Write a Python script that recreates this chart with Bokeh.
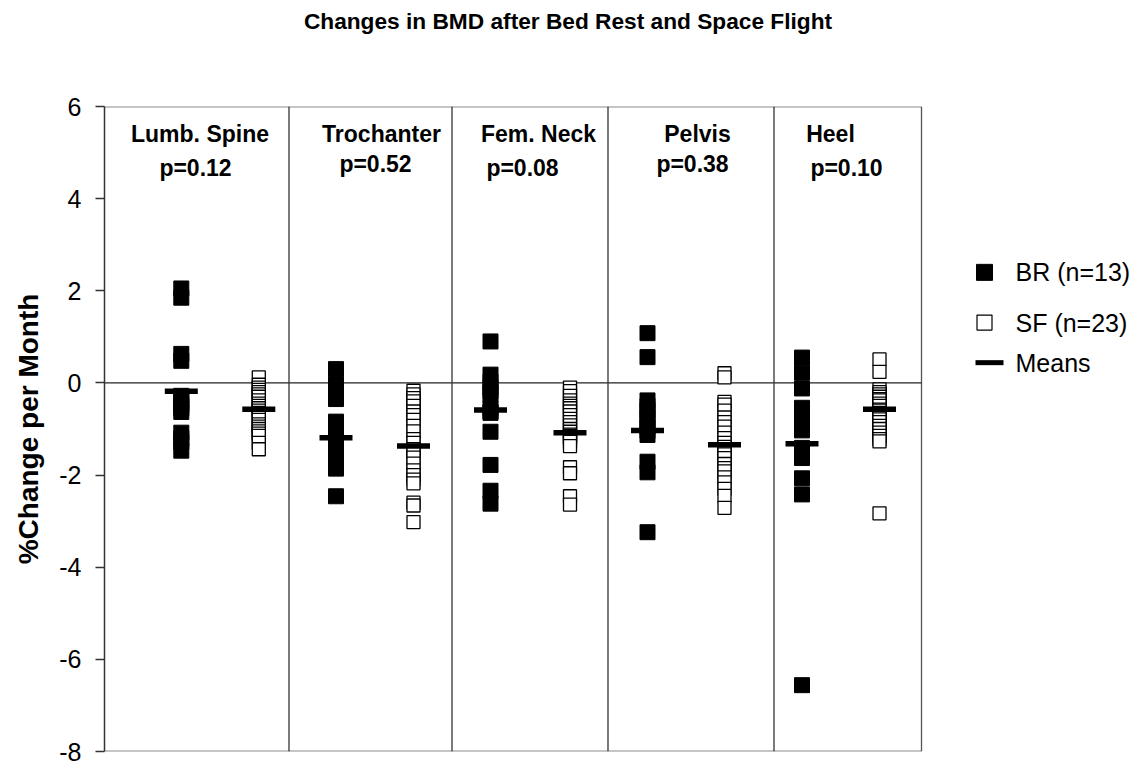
from bokeh.plotting import figure
from bokeh.layouts import column
from bokeh.models import Range1d, Span, FixedTicker
from bokeh.core.properties import value
from bokeh.embed import file_html
from bokeh.resources import INLINE

# ---------------- data ----------------
title_text = "Changes in BMD after Bed Rest and Space Flight"
sites = ["Lumb. Spine", "Trochanter", "Fem. Neck", "Pelvis", "Heel"]
p_values = ["p=0.12", "p=0.52", "p=0.08", "p=0.38", "p=0.10"]

br_lumb = [2.05, 1.85, 0.63, 0.48, -0.28, -0.40, -0.48, -0.55, -0.63, -1.08, -1.20, -1.28, -1.47]
sf_lumb = [0.12, -0.04, -0.10, -0.15, -0.20, -0.25, -0.30, -0.38, -0.45, -0.50, -0.55, -0.60,
           -0.65, -0.72, -0.80, -0.90, -0.95, -1.00, -1.05, -1.10, -1.15, -1.30, -1.44]
br_troch = [0.30, -0.03, -0.20, -0.35, -0.84, -1.04, -1.15, -1.26, -1.47, -1.60, -1.71, -1.86, -2.46]
sf_troch = [-0.17, -0.25, -0.33, -0.40, -0.50, -0.62, -0.70, -0.80, -0.93, -1.05, -1.22, -1.30,
            -1.44, -1.50, -1.62, -1.75, -1.90, -2.00, -2.10, -2.18, -2.60, -2.66, -3.02]
br_neck = [0.90, 0.18, 0.02, -0.11, -0.18, -0.26, -0.55, -0.62, -0.65, -1.06, -1.78, -2.34, -2.62]
sf_neck = [-0.10, -0.18, -0.28, -0.38, -0.45, -0.50, -0.55, -0.62, -0.70, -0.78, -0.85, -0.92,
           -1.00, -1.06, -1.12, -1.15, -1.20, -1.28, -1.37, -1.83, -1.96, -2.46, -2.64]
br_pelvis = [1.08, 0.56, -0.38, -0.50, -0.60, -0.72, -0.82, -0.95, -1.04, -1.13, -1.71, -1.94, -3.24]
sf_pelvis = [0.21, 0.12, -0.41, -0.47, -0.60, -0.75, -0.85, -0.95, -1.08, -1.20, -1.30, -1.39,
             -1.48, -1.55, -1.63, -1.76, -1.85, -1.92, -2.05, -2.16, -2.30, -2.45, -2.71]
br_heel = [0.55, 0.22, -0.12, -0.54, -0.66, -0.78, -0.90, -1.03, -1.41, -1.63, -2.07, -2.42, -6.56]
sf_heel = [0.51, 0.24, -0.14, -0.20, -0.25, -0.30, -0.35, -0.38, -0.45, -0.50, -0.58, -0.60,
           -0.65, -0.72, -0.79, -0.85, -0.93, -1.00, -1.08, -1.15, -1.22, -1.27, -2.83]

br_means = [-0.18, -1.19, -0.59, -1.03, -1.32]
sf_means = [-0.57, -1.37, -1.08, -1.34, -0.57]

y_ticks = [6, 4, 2, 0, -2, -4, -6, -8]
y_tick_labels = ["6", "4", "2", "0", "-2", "-4", "-6", "-8"]

legend_labels = ["BR (n=13)", "SF (n=23)", "Means"]

# ---------------- layout constants (horizontal slots, px-like units) ----------------
panel_right = 817.0
br_slot = [76.8, 231.5, 386.0, 543.0, 697.5]
sf_slot = [154.3, 309.0, 465.5, 620.0, 775.0]
dividers = [184.5, 347.5, 503.5, 669.5]
site_label_x = [95.5, 277.0, 434.0, 593.0, 726.0]
p_label_x = [91.0, 271.0, 418.0, 588.0, 742.0]
site_label_y = [5.41, 5.41, 5.41, 5.41, 5.41]
p_label_y = [4.66, 4.75, 4.66, 4.75, 4.66]
legend_mark_x = 880.0
legend_dash_x = 885.0
legend_text_x = 911.0
legend_y = [2.40, 1.31, 0.44]
title_x = 463.5

br_series = [br_lumb, br_troch, br_neck, br_pelvis, br_heel]
sf_series = [sf_lumb, sf_troch, sf_neck, sf_pelvis, sf_heel]

FONT = "Liberation Sans"
TITLE_H = 90
X_SPAN = 1039

# ---------------- title strip ----------------
t = figure(width=1143, height=TITLE_H, output_backend="svg", toolbar_location=None,
           x_range=Range1d(0, X_SPAN), y_range=Range1d(0, TITLE_H),
           x_axis_location=None, y_axis_location=None,
           min_border_left=104, min_border_right=0, min_border_top=0, min_border_bottom=0)
t.grid.visible = False
t.outline_line_color = None
t.background_fill_color = "white"
t.border_fill_color = "white"
t.text(x=[title_x], y=[70], text=[title_text], text_font=value(FONT), text_font_style="bold",
       text_font_size="22.7px", text_align="center", text_baseline="middle",
       text_color="black")

# ---------------- main chart ----------------
p = figure(width=1143, height=769 - TITLE_H, output_backend="svg", toolbar_location=None,
           x_range=Range1d(0, X_SPAN), y_range=Range1d(-8, 6),
           x_axis_location=None, min_border_left=104, min_border_right=0,
           min_border_top=16, min_border_bottom=18)
p.grid.visible = False
p.background_fill_color = "white"
p.border_fill_color = "white"
p.outline_line_color = None

ax = p.yaxis[0]
ax.ticker = FixedTicker(ticks=y_ticks)
ax.major_label_overrides = {t_: s for t_, s in zip(y_ticks, y_tick_labels)}
ax.axis_line_color = "#333333"
ax.axis_line_width = 1.5
ax.major_tick_line_color = "#333333"
ax.major_tick_line_width = 1.5
ax.major_tick_out = 9
ax.major_tick_in = 0
ax.minor_tick_line_color = None
ax.major_label_text_font = FONT
ax.major_label_text_font_size = "25px"
ax.major_label_text_color = "black"
ax.major_label_standoff = 14
ax.axis_label = "%Change per Month"
ax.axis_label_text_font = FONT
ax.axis_label_text_font_size = "28px"
ax.axis_label_text_font_style = "bold"
ax.axis_label_text_color = "black"
ax.axis_label_standoff = 12

# panel box: top/bottom/right borders, zero line, dividers
p.segment(x0=[0, 0], x1=[panel_right, panel_right], y0=[6, -8], y1=[6, -8],
          line_color="#8c8c8c", line_width=2)
p.segment(x0=[panel_right], x1=[panel_right], y0=[-8], y1=[6],
          line_color="#555555", line_width=1.3)
p.segment(x0=[0], x1=[panel_right], y0=[0], y1=[0], line_color="#222222", line_width=1.2)
for d in dividers:
    p.add_layout(Span(location=d, dimension="height", line_color="#333333", line_width=1.3))

# points
bx, by, sx, sy = [], [], [], []
for i in range(5):
    bx += [br_slot[i]] * len(br_series[i])
    by += br_series[i]
    sx += [sf_slot[i]] * len(sf_series[i])
    sy += sf_series[i]

p.scatter(x=bx, y=by, marker="square", size=15, fill_color="black",
          line_color="black", line_width=1)
p.scatter(x=sx, y=sy, marker="square", size=13, fill_color="white",
          line_color="black", line_width=1.3)

mx = br_slot + sf_slot
my = br_means + sf_means
p.rect(x=mx, y=my, width=33, height=5.5, width_units="screen", height_units="screen",
       fill_color="black", line_color=None)

# site labels
p.text(x=site_label_x, y=site_label_y, text=sites, text_font=value(FONT),
       text_font_style="bold", text_font_size="23px", text_align="center",
       text_baseline="middle", text_color="black")
p.text(x=p_label_x, y=p_label_y, text=p_values, text_font=value(FONT),
       text_font_style="bold", text_font_size="23px", text_align="center",
       text_baseline="middle", text_color="black")

# legend
p.scatter(x=[legend_mark_x], y=[legend_y[0]], marker="square", size=16,
          fill_color="black", line_color="black", line_width=1)
p.scatter(x=[legend_mark_x], y=[legend_y[1]], marker="square", size=15,
          fill_color="white", line_color="black", line_width=1.2)
p.rect(x=[legend_dash_x], y=[legend_y[2]], width=28, height=5, width_units="screen",
       height_units="screen", fill_color="black", line_color=None)
p.text(x=[legend_text_x] * 3, y=legend_y, text=legend_labels, text_font=value(FONT),
       text_font_size="25px", text_align="left", text_baseline="middle", text_color="black")

page = column(t, p, spacing=0)
open("out.html", "w").write(file_html(page, INLINE))
